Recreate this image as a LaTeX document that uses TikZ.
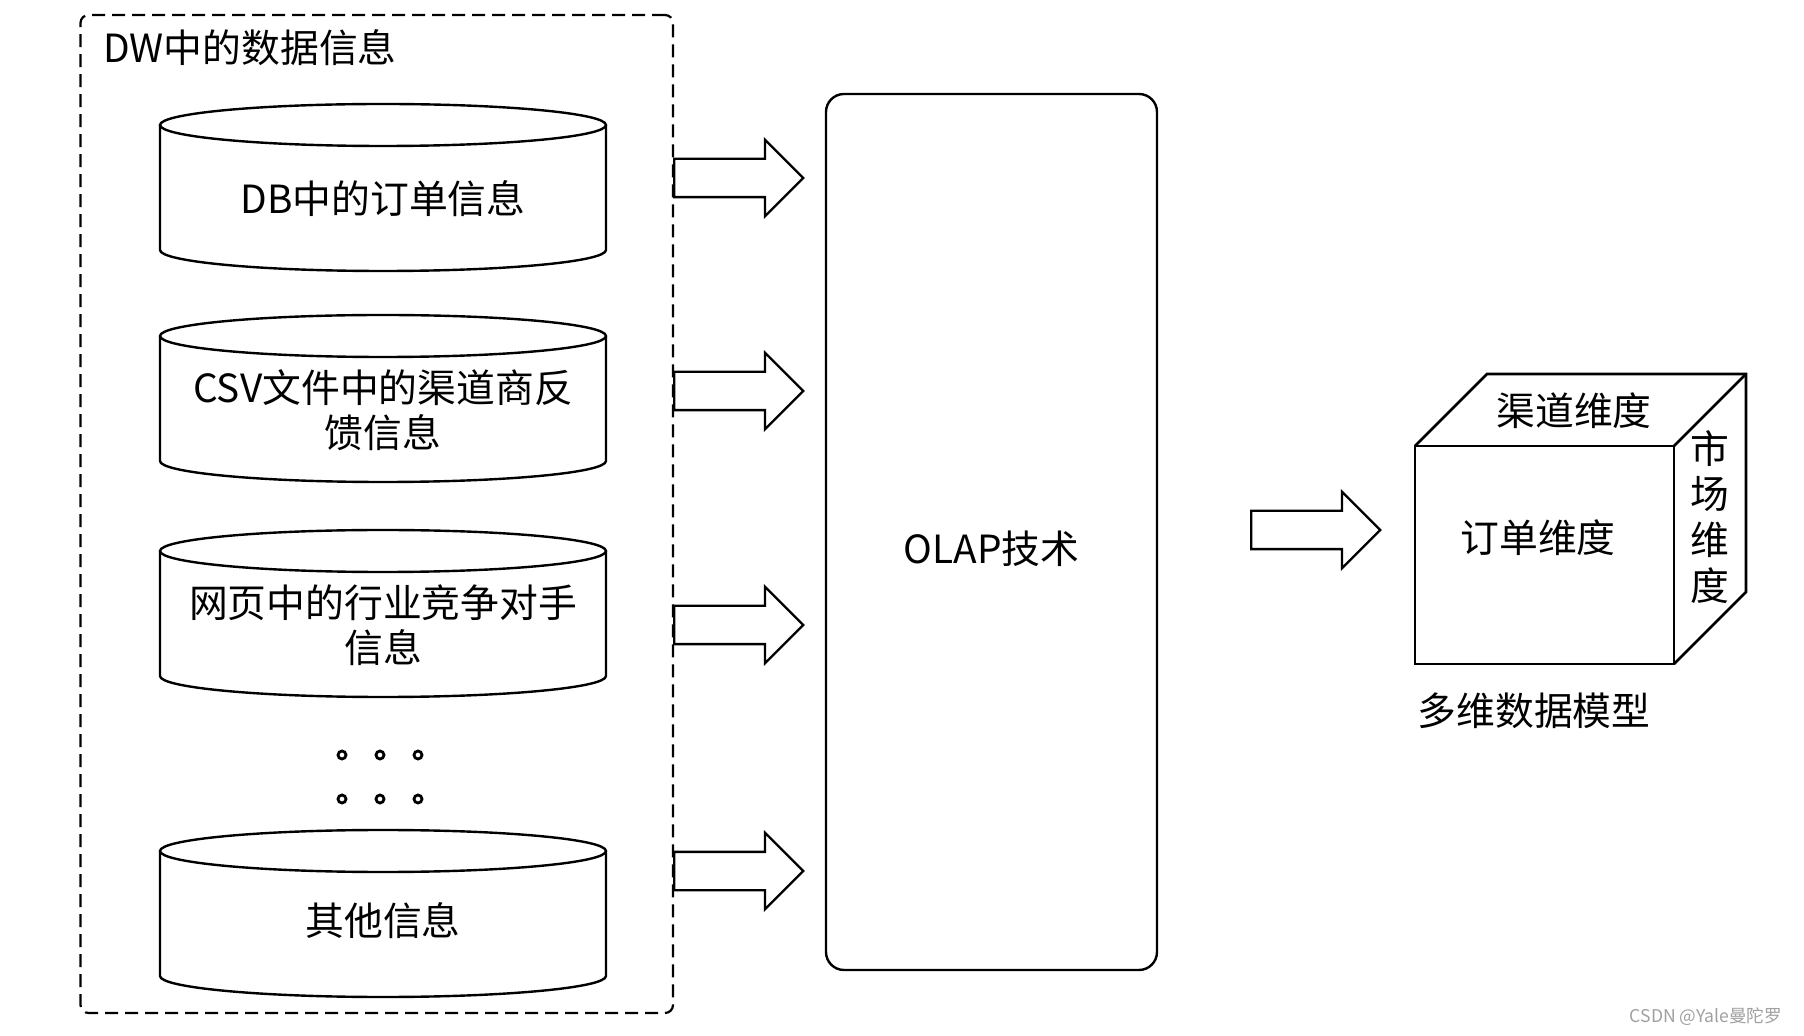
\documentclass[tikz,border=0pt]{standalone}
\usepackage{fontspec}
\setmainfont{Noto Sans CJK SC}
\usetikzlibrary{shapes.arrows}
\definecolor{wmgray}{HTML}{A0A0A0}

\tikzset{
  every node/.style={font=\fontsize{19.4}{22.5}\selectfont},
  boxline/.style={line width=1.2pt},
  cyltext/.style={align=center},
  blockarrow/.style={draw, single arrow, line width=1.2pt,
    minimum height=64.5pt, single arrow head extend=9.5pt, inner xsep=0pt,
    inner ysep=9pt, anchor=tail},
}

\begin{document}
\begin{tikzpicture}[x=0.5pt,y=-0.5pt]
\useasboundingbox (0,0) rectangle (1804,1036);

% dashed DW frame
\node[draw, line width=1.1pt, dash pattern=on 6.5pt off 3.5pt, rounded corners=4pt,
  minimum width=296.25pt, minimum height=499pt, inner sep=0pt, outer sep=0pt,
  anchor=north west] (dwframe) at (80.5,15) {};
\node[anchor=west, inner sep=0pt] (dwtitle) at (103,48) {DW中的数据信息};

% cylinders
\foreach \ytop/\cname/\ctext/\ty in {104/dbcyl/{DB中的订单信息}/95,
  315/csvcyl/{CSV文件中的渠道商反\\馈信息}/95,
  530/webcyl/{网页中的行业竞争对手\\信息}/95,
  830/othercyl/{其他信息}/91} {
  \draw[boxline] (383,\ytop+21) ellipse (111.5pt and 10.5pt);
  \draw[boxline] (160,\ytop+21) -- (160,\ytop+146)
    arc[start angle=180, end angle=360, x radius=111.5pt, y radius=10.5pt] -- (606,\ytop+21);
  \node[cyltext] (\cname) at (383,\ytop+\ty) {\ctext};
}

% dots
\foreach \dx in {342,380,418}
  \foreach \dy in {755,799}
    \draw[line width=1.4pt] (\dx,\dy) circle (2pt);

% OLAP block
\node[draw, boxline, rounded corners=9pt, minimum width=165.5pt, minimum height=438pt,
  inner sep=0pt, outer sep=0pt, anchor=north west] (olap) at (826,94) {};
\node (olaplbl) at ([yshift=-8.5pt]olap.center) {OLAP技术};

% arrows
\node[blockarrow] (arr1) at (dwframe.east |- 0,178) {};
\node[blockarrow] (arr2) at (dwframe.east |- 0,391) {};
\node[blockarrow] (arr3) at (dwframe.east |- 0,625) {};
\node[blockarrow] (arr4) at (dwframe.east |- 0,871) {};
\node[blockarrow] (arr5) at (1250,530) {};

% cube
\node[draw, line width=1.3pt, minimum width=129.5pt, minimum height=109pt,
  inner sep=0pt, outer sep=0pt, anchor=north west] (ordercube) at (1415,446) {};
\draw[line width=1.3pt] (ordercube.north west) -- ++(72,-72) -- ++(259,0) -- ++(0,218)
  -- (ordercube.south east);
\draw[line width=1.3pt] (ordercube.north east) -- ++(72,-72);
\node (orderlbl) at (1538,538) {订单维度};
\node (channellbl) at (1574,411) {渠道维度};
\node[align=center, font=\fontsize{19.4}{22.9}\selectfont] (marketlbl) at (1710,517) {市\\场\\维\\度};
\node (modellbl) at (1534,711) {多维数据模型};

\node[font=\fontsize{8.8}{10}\selectfont, text=wmgray] (csdnmark) at (1706,1017) {CSDN @Yale曼陀罗};

\end{tikzpicture}
\end{document}
